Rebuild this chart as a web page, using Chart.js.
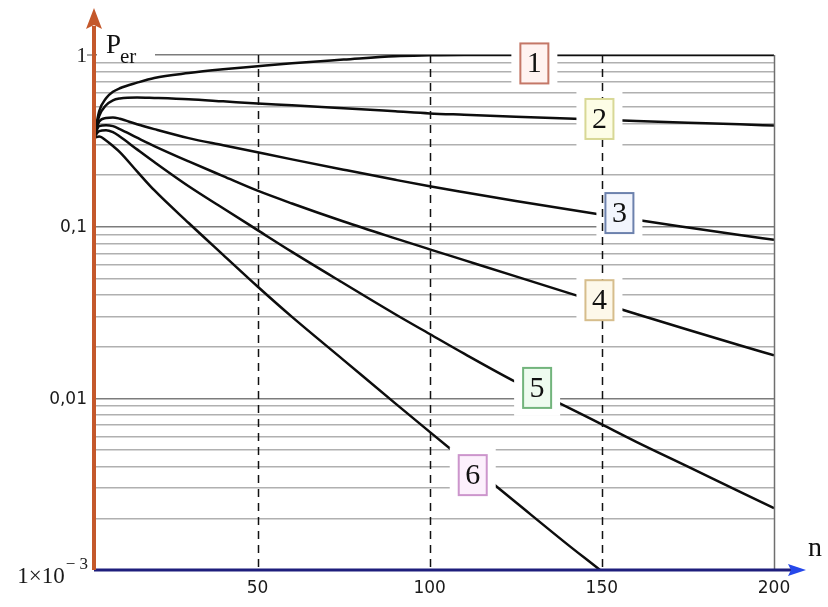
<!DOCTYPE html>
<html>
<head>
<meta charset="utf-8">
<script src="https://cdn.jsdelivr.net/npm/chart.js@4.4.1/dist/chart.umd.min.js"></script>
<style>
  html, body { margin: 0; padding: 0; background: #ffffff; }
  #wrap { position: relative; width: 828px; height: 607px; }
</style>
</head>
<body>
<div id="wrap"><canvas id="c"></canvas></div>
<script>
// ---- data ----
const nVals = [2.5, 4, 6, 8, 10, 15, 20, 30, 40, 50, 60, 75, 90, 100, 110, 125, 140, 150, 160, 175, 190, 200];
const p1 = [0.33, 0.47, 0.56, 0.61, 0.64, 0.69, 0.735, 0.785, 0.825, 0.86, 0.895, 0.94, 0.985, 0.995, 1.0, 1.0, 1.0, 1.0, 1.0, 1.0, 1.0, 1.0];
const p2 = [0.33, 0.44, 0.51, 0.545, 0.558, 0.566, 0.562, 0.552, 0.537, 0.522, 0.51, 0.49, 0.47, 0.457, 0.449, 0.4375, 0.4266, 0.4198, 0.413, 0.4036, 0.3945, 0.388];
const p3 = [0.33, 0.41, 0.43, 0.433, 0.425, 0.395, 0.37, 0.328, 0.298, 0.271, 0.2466, 0.2148, 0.1875, 0.1718, 0.1585, 0.141, 0.1262, 0.1175, 0.1096, 0.0989, 0.0893, 0.0838];
const p4 = [0.33, 0.385, 0.39, 0.385, 0.37, 0.33, 0.295, 0.24, 0.197, 0.162, 0.1365, 0.1072, 0.0855, 0.0738, 0.0638, 0.0513, 0.0413, 0.0358, 0.031, 0.0251, 0.0204, 0.0178];
const p5 = [0.33, 0.36, 0.365, 0.355, 0.335, 0.282, 0.238, 0.172, 0.128, 0.0955, 0.0713, 0.0468, 0.0309, 0.0237, 0.0182, 0.01245, 0.0089, 0.00705, 0.00558, 0.0040, 0.00286, 0.00229];
const p6 = [0.33, 0.335, 0.318, 0.295, 0.272, 0.21, 0.163, 0.105, 0.0685, 0.0448, 0.0298, 0.0167, 0.00935, 0.00638, 0.00437, 0.00248, 0.00141, 0.00098, 0.00067, null, null, null];
const series = [p1, p2, p3, p4, p5, p6];

const curveNames = ['1', '2', '3', '4', '5', '6'];
const curveLabelN = [130.4, 149.3, 155.1, 149.3, 131.2, 112.5];
const curveLabelP = [0.893, 0.424, 0.12, 0.0373, 0.0115, 0.00357];

const xTickVals = [50, 100, 150, 200];
const xTickText = ['50', '100', '150', '200'];
const yTickVals = [1, 0.1, 0.01];
const yTickText = ['1', '0,1', '0,01'];
const yGridVals = [];
for (let e = -3; e <= 0; e++) {
  for (let m = 1; m <= 9; m++) {
    const v = m * Math.pow(10, e);
    if (v <= 1.0000001) yGridVals.push(+v.toPrecision(3));
  }
}

// ---- styles ----
const boxBorder = ['#c47767', '#d8d896', '#6c81ad', '#d6bd8c', '#72b47c', '#cc95cc'];
const boxFill   = ['#fff3f1', '#fdfde6', '#f2f5fd', '#fdf8ea', '#eefbef', '#fcf0fc'];
const SERIF = '"Liberation Serif", "Times New Roman", serif';
const SANS = '"DejaVu Sans", Tahoma, sans-serif';

const overlay = {
  id: 'overlay',
  afterDatasetsDraw(chart) {
    const { ctx, chartArea: a, scales } = chart;
    const xs = scales.x, ys = scales.y;
    const bw = 28, bh = 40, padX = 9, padY = 8;
    ctx.save();

    // white halos around curve labels
    ctx.fillStyle = '#ffffff';
    for (let i = 0; i < curveNames.length; i++) {
      const cx = xs.getPixelForValue(curveLabelN[i]);
      const cy = ys.getPixelForValue(curveLabelP[i]);
      ctx.fillRect(cx - bw / 2 - padX, cy - bh / 2 - padY, bw + 2 * padX, bh + 2 * padY);
    }
    // halo behind P_er
    ctx.fillRect(a.left + 3, a.top - 40, 58, 45);

    // dashed vertical grid lines
    ctx.strokeStyle = '#111111';
    ctx.lineWidth = 1.5;
    ctx.setLineDash([8, 6]);
    for (const v of [50, 100, 150]) {
      const px = Math.round(xs.getPixelForValue(v)) + 0.5;
      ctx.beginPath();
      ctx.moveTo(px, a.top);
      ctx.lineTo(px, a.bottom);
      ctx.stroke();
    }
    ctx.setLineDash([]);
    // right border at n = 200
    ctx.strokeStyle = '#6f6f6f';
    ctx.lineWidth = 1.5;
    const rx = Math.round(xs.getPixelForValue(200)) + 0.5;
    ctx.beginPath();
    ctx.moveTo(rx, a.top);
    ctx.lineTo(rx, a.bottom);
    ctx.stroke();

    // curve label boxes
    ctx.textAlign = 'center';
    ctx.textBaseline = 'middle';
    for (let i = 0; i < curveNames.length; i++) {
      const cx = xs.getPixelForValue(curveLabelN[i]);
      const cy = ys.getPixelForValue(curveLabelP[i]);
      ctx.fillStyle = boxFill[i];
      ctx.fillRect(cx - bw / 2, cy - bh / 2, bw, bh);
      ctx.strokeStyle = boxBorder[i];
      ctx.lineWidth = 2;
      ctx.strokeRect(cx - bw / 2, cy - bh / 2, bw, bh);
      ctx.fillStyle = '#111111';
      ctx.font = '30px ' + SERIF;
      ctx.fillText(curveNames[i], cx, cy + 1);
    }

    // x axis (blue) with arrow
    const ax = a.left;
    const by = ys.getPixelForValue(0.001);
    ctx.strokeStyle = '#1e1e7c';
    ctx.lineWidth = 3;
    ctx.beginPath();
    ctx.moveTo(ax, by);
    ctx.lineTo(a.right + 18, by);
    ctx.stroke();
    ctx.fillStyle = '#2547ea';
    ctx.beginPath();
    ctx.moveTo(a.right + 32, by);
    ctx.lineTo(a.right + 14, by - 6);
    ctx.lineTo(a.right + 17, by);
    ctx.lineTo(a.right + 14, by + 6);
    ctx.closePath();
    ctx.fill();

    // y axis (orange) with arrow
    ctx.strokeStyle = '#c4582b';
    ctx.lineWidth = 4;
    ctx.beginPath();
    ctx.moveTo(ax, by);
    ctx.lineTo(ax, 26);
    ctx.stroke();
    ctx.fillStyle = '#c4582b';
    ctx.beginPath();
    ctx.moveTo(ax, 8);
    ctx.lineTo(ax - 8, 29);
    ctx.lineTo(ax, 25);
    ctx.lineTo(ax + 8, 29);
    ctx.closePath();
    ctx.fill();

    // small tick at 1
    ctx.strokeStyle = '#888888';
    ctx.lineWidth = 1.5;
    const y1 = ys.getPixelForValue(1);
    ctx.beginPath();
    ctx.moveTo(ax - 7, y1);
    ctx.lineTo(ax - 2, y1);
    ctx.stroke();

    // y tick labels
    ctx.fillStyle = '#1a1a1a';
    ctx.textAlign = 'right';
    ctx.textBaseline = 'middle';
    for (let i = 0; i < yTickVals.length; i++) {
      const py = ys.getPixelForValue(yTickVals[i]);
      ctx.font = (yTickVals[i] === 1 ? '21px ' + SERIF : '17px ' + SANS);
      ctx.fillText(yTickText[i], ax - 7, py + 1);
    }
    // 1×10^-3
    ctx.textBaseline = 'alphabetic';
    ctx.font = '17px ' + SERIF;
    ctx.fillText('\u2212 3', ax - 6, by - 1);
    const supW = ctx.measureText('\u2212 3').width;
    ctx.font = '23px ' + SERIF;
    ctx.fillText('1\u00d710', ax - 7 - supW, by + 13);

    // x tick labels
    ctx.textAlign = 'center';
    ctx.textBaseline = 'middle';
    ctx.font = '17px ' + SANS;
    for (let i = 0; i < xTickVals.length; i++) {
      ctx.fillText(xTickText[i], xs.getPixelForValue(xTickVals[i]), by + 19);
    }

    // axis names
    ctx.textAlign = 'left';
    ctx.textBaseline = 'alphabetic';
    ctx.fillStyle = '#111111';
    ctx.font = '27px ' + SERIF;
    ctx.fillText('P', ax + 12, 53);
    const pw = ctx.measureText('P').width;
    ctx.font = '21px ' + SERIF;
    ctx.fillText('er', ax + 12 + pw - 1, 63);
    ctx.font = '28px ' + SERIF;
    ctx.fillText('n', a.right + 34, by - 14);

    ctx.restore();
  }
};

const datasets = series.map((s, i) => ({
  label: curveNames[i],
  data: nVals.map((n, k) => ({ x: n, y: s[k] })),
  borderColor: '#0d0d0d',
  borderWidth: 2.5,
  pointRadius: 0,
  fill: false,
  cubicInterpolationMode: 'monotone',
  spanGaps: false
}));

new Chart(document.getElementById('c'), {
  type: 'line',
  data: { datasets },
  plugins: [overlay],
  options: {
    responsive: true,
    maintainAspectRatio: false,
    animation: false,
    events: [],
    layout: { padding: { left: 94, right: 54, top: 55, bottom: 37 } },
    plugins: { legend: { display: false }, tooltip: { enabled: false } },
    scales: {
      x: {
        type: 'linear',
        min: 2.5,
        max: 200,
        display: false
      },
      y: {
        type: 'logarithmic',
        min: 0.001,
        max: 1,
        afterBuildTicks: (scale) => { scale.ticks = yGridVals.map(v => ({ value: v })); },
        ticks: { display: false },
        border: { display: false },
        grid: {
          drawTicks: false,
          lineWidth: 1.5,
          color: (c) => {
            const v = c.tick ? c.tick.value : 0;
            const l = Math.log10(v);
            return Math.abs(l - Math.round(l)) < 1e-6 ? '#7c7c7c' : '#b0b0b0';
          }
        }
      }
    }
  }
});
</script>
</body>
</html>
